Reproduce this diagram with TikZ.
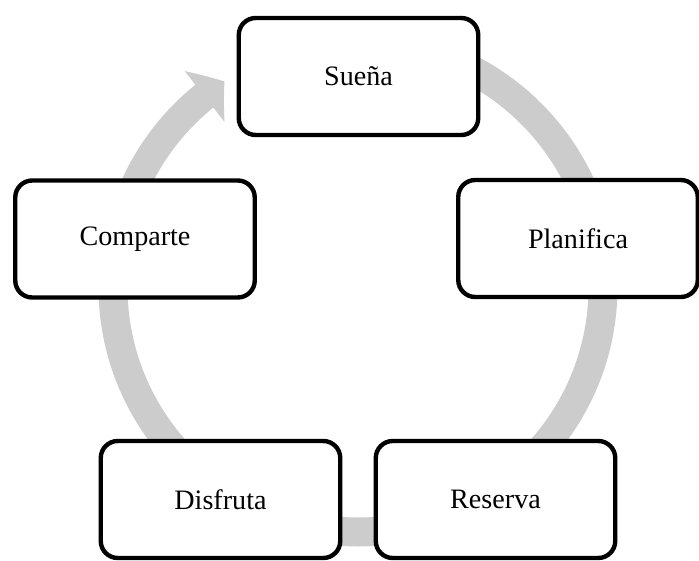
\documentclass[tikz,border=0pt]{standalone}
\usepackage{fontspec}
\setmainfont{Liberation Serif}
\usetikzlibrary{arrows.meta,bending}
\definecolor{ringgray}{RGB}{204,204,204}
\begin{document}
\begin{tikzpicture}[every node/.style={font=\fontsize{16}{19}\selectfont},
    stage/.style={draw, fill=white, line width=2.5pt, rounded corners=0.34cm,
                  minimum width=4.79cm, minimum height=2.34cm},
    ring/.style={draw=ringgray, line width=0.58cm,
                 -{Triangle[width=1.26cm, length=0.5cm, bend]}}]
  \useasboundingbox (0, 0) rectangle (13.98, 11.2);
  \coordinate (hub) at (7.16, 5.46);
  \draw[ring] (hub) ++(90:4.9) arc[start angle=90, end angle=-237, radius=4.9];
  \foreach \n/\p/\t in {suena/{(7.17, 9.67)}/Sueña, planifica/{(11.56, 6.43)}/Planifica,
                        reserva/{(9.91, 1.21)}/Reserva, disfruta/{(4.41, 1.21)}/Disfruta,
                        comparte/{(2.70, 6.42)}/Comparte}
    { \node[stage] (\n) at \p {\t}; }
\end{tikzpicture}
\end{document}
